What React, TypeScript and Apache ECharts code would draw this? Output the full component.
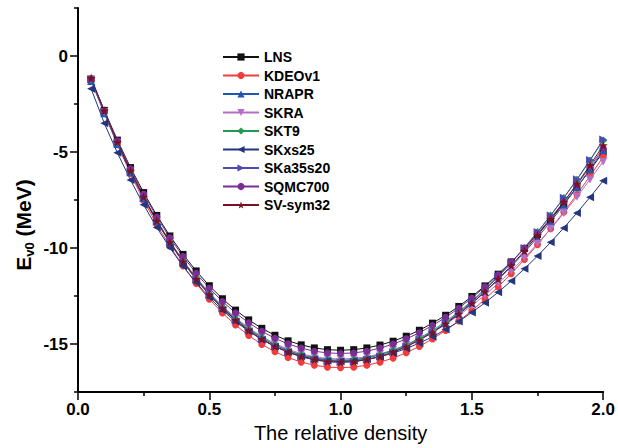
import React, { useEffect, useRef } from "react";
import * as echarts from "echarts";

const DENSITY = [
  0.05, 0.1, 0.15, 0.2, 0.25, 0.3, 0.35, 0.4, 0.45, 0.5,
  0.55, 0.6, 0.65, 0.7, 0.75, 0.8, 0.85, 0.9, 0.95, 1.0,
  1.05, 1.1, 1.15, 1.2, 1.25, 1.3, 1.35, 1.4, 1.45, 1.5,
  1.55, 1.6, 1.65, 1.7, 1.75, 1.8, 1.85, 1.9, 1.95, 2.0,
];

const LNS = [
  -1.2, -2.83, -4.38, -5.81, -7.11, -8.3, -9.37, -10.33, -11.19, -11.96,
  -12.64, -13.23, -13.74, -14.18, -14.54, -14.83, -15.04, -15.2, -15.29, -15.32,
  -15.29, -15.2, -15.05, -14.85, -14.59, -14.28, -13.91, -13.5, -13.04, -12.52,
  -11.97, -11.36, -10.72, -10.02, -9.29, -8.51, -7.69, -6.83, -5.94, -5.0,
];
const KDEOV1 = [
  -1.24, -2.97, -4.62, -6.13, -7.52, -8.77, -9.91, -10.93, -11.85, -12.66,
  -13.38, -14.01, -14.55, -15.02, -15.4, -15.7, -15.94, -16.1, -16.2, -16.23,
  -16.2, -16.1, -15.94, -15.73, -15.45, -15.12, -14.73, -14.29, -13.8, -13.26,
  -12.66, -12.02, -11.33, -10.6, -9.82, -8.99, -8.12, -7.21, -6.25, -5.25,
];
const NRAPR = [
  -1.3, -2.98, -4.58, -6.05, -7.39, -8.61, -9.72, -10.71, -11.6, -12.39,
  -13.09, -13.7, -14.22, -14.67, -15.04, -15.34, -15.57, -15.73, -15.82, -15.85,
  -15.82, -15.72, -15.56, -15.35, -15.07, -14.74, -14.36, -13.92, -13.43, -12.88,
  -12.29, -11.65, -10.96, -10.23, -9.45, -8.62, -7.75, -6.84, -5.89, -4.9,
];
const SKRA = [
  -1.25, -2.92, -4.52, -5.99, -7.33, -8.55, -9.65, -10.64, -11.53, -12.32,
  -13.02, -13.63, -14.16, -14.6, -14.97, -15.27, -15.5, -15.66, -15.75, -15.78,
  -15.75, -15.66, -15.51, -15.31, -15.05, -14.74, -14.38, -13.97, -13.51, -13.0,
  -12.44, -11.84, -11.19, -10.51, -9.77, -9.0, -8.18, -7.33, -6.43, -5.5,
];
const SKT9 = [
  -1.2, -2.89, -4.5, -5.98, -7.33, -8.56, -9.67, -10.67, -11.57, -12.36,
  -13.07, -13.68, -14.21, -14.66, -15.04, -15.34, -15.56, -15.72, -15.82, -15.85,
  -15.82, -15.72, -15.55, -15.33, -15.04, -14.69, -14.29, -13.83, -13.32, -12.75,
  -12.13, -11.46, -10.74, -9.98, -9.16, -8.3, -7.39, -6.44, -5.44, -4.4,
];
const SKXS25 = [
  -1.7, -3.5, -5.04, -6.46, -7.75, -8.93, -9.99, -10.95, -11.8, -12.57,
  -13.24, -13.83, -14.33, -14.77, -15.12, -15.41, -15.63, -15.78, -15.87, -15.9,
  -15.87, -15.79, -15.66, -15.47, -15.23, -14.95, -14.62, -14.24, -13.82, -13.35,
  -12.85, -12.3, -11.71, -11.08, -10.41, -9.7, -8.95, -8.17, -7.35, -6.5,
];
const SKA35S20 = [
  -1.21, -2.9, -4.53, -6.02, -7.38, -8.61, -9.73, -10.74, -11.64, -12.44,
  -13.15, -13.77, -14.3, -14.76, -15.13, -15.43, -15.66, -15.82, -15.92, -15.95,
  -15.92, -15.81, -15.65, -15.42, -15.13, -14.78, -14.37, -13.9, -13.38, -12.81,
  -12.18, -11.5, -10.78, -10.0, -9.17, -8.3, -7.38, -6.42, -5.41, -4.35,
];
const SQMC700 = [
  -1.2, -2.85, -4.42, -5.87, -7.19, -8.38, -9.47, -10.44, -11.31, -12.09,
  -12.78, -13.38, -13.89, -14.33, -14.7, -14.99, -15.21, -15.37, -15.46, -15.49,
  -15.46, -15.37, -15.21, -15.0, -14.73, -14.41, -14.03, -13.61, -13.13, -12.6,
  -12.02, -11.39, -10.72, -10.01, -9.25, -8.44, -7.59, -6.7, -5.77, -4.8,
];
const SVSYM32 = [
  -1.15, -2.85, -4.48, -5.98, -7.34, -8.58, -9.7, -10.71, -11.62, -12.42,
  -13.13, -13.75, -14.29, -14.74, -15.12, -15.42, -15.65, -15.81, -15.91, -15.94,
  -15.91, -15.81, -15.65, -15.42, -15.14, -14.8, -14.4, -13.95, -13.44, -12.88,
  -12.27, -11.61, -10.91, -10.15, -9.34, -8.5, -7.6, -6.66, -5.68, -4.65,
];

const Y_LABELS = [-15, -10, -5, 0];
const Y_MINOR = [-17.5, -12.5, -7.5, -2.5, 2.5];

const STAR =
  "path://M0,-10 L2.35,-3.24 9.51,-3.09 3.80,1.24 5.88,8.09 0,4 -5.88,8.09 -3.80,1.24 -9.51,-3.09 -2.35,-3.24Z";

const SERIES_DEFS = [
  { name: "LNS", data: LNS, color: "#111111", symbol: "rect", rot: 0, size: 7 },
  { name: "KDEOv1", data: KDEOV1, color: "#f03c3c", symbol: "circle", rot: 0, size: 7 },
  { name: "NRAPR", data: NRAPR, color: "#1f56b0", symbol: "triangle", rot: 0, size: 8 },
  { name: "SKRA", data: SKRA, color: "#b46ec8", symbol: "triangle", rot: 180, size: 8 },
  { name: "SKT9", data: SKT9, color: "#229955", symbol: "diamond", rot: 0, size: 8 },
  { name: "SKxs25", data: SKXS25, color: "#24367f", symbol: "triangle", rot: 90, size: 8 },
  { name: "SKa35s20", data: SKA35S20, color: "#4b4bb0", symbol: "triangle", rot: -90, size: 8 },
  { name: "SQMC700", data: SQMC700, color: "#7b2d96", symbol: "circle", rot: 0, size: 7 },
  { name: "SV-sym32", data: SVSYM32, color: "#7a1020", symbol: STAR, rot: 0, size: 9 },
];

const FONT = "'Liberation Sans', Arial, sans-serif";

export default function App() {
  const ref = useRef<HTMLDivElement>(null);
  useEffect(() => {
    if (!ref.current) return;
    const chart = echarts.init(ref.current, null, { renderer: "svg" });
    chart.setOption({
      animation: false,
      backgroundColor: "#ffffff",
      grid: { left: 78, right: 12, top: 8, bottom: 53 },
      legend: {
        orient: "vertical",
        left: 222,
        top: 50,
        padding: 0,
        itemWidth: 36,
        itemHeight: 9,
        itemGap: 4.5,
        textStyle: { fontFamily: FONT, fontSize: 14, fontWeight: "bold", color: "#000" },
        data: SERIES_DEFS.map((s) => s.name),
      },
      xAxis: {
        type: "value",
        min: 0,
        max: 2,
        interval: 0.5,
        name: "The relative density",
        nameLocation: "middle",
        nameGap: 29,
        nameTextStyle: { fontFamily: FONT, fontSize: 20, color: "#000" },
        axisLine: { show: true, onZero: false, lineStyle: { color: "#000", width: 2 } },
        axisTick: { show: true, length: 8, lineStyle: { color: "#000", width: 1.5 } },
        minorTick: { show: true, splitNumber: 2, length: 4, lineStyle: { color: "#000", width: 1.5 } },
        splitLine: { show: false },
        axisLabel: {
          margin: 9,
          fontFamily: FONT,
          fontSize: 17,
          fontWeight: "bold",
          color: "#000",
          formatter: (v: number) => v.toFixed(1),
        },
      },
      yAxis: [
        {
          type: "value",
          min: -17.5,
          max: 2.5,
          position: "left",
          axisLine: { show: true, onZero: false, lineStyle: { color: "#000", width: 2 } },
          axisTick: {
            show: true,
            length: 8,
            customValues: Y_LABELS,
            lineStyle: { color: "#000", width: 1.5 },
          },
          splitLine: { show: false },
          axisLabel: {
            customValues: Y_LABELS,
            margin: 10,
            fontFamily: FONT,
            fontSize: 17,
            fontWeight: "bold",
            color: "#000",
          },
        },
        {
          type: "value",
          min: -17.5,
          max: 2.5,
          position: "left",
          axisLine: { show: false, onZero: false },
          axisTick: {
            show: true,
            length: 4,
            customValues: Y_MINOR,
            lineStyle: { color: "#000", width: 1.5 },
          },
          axisLabel: { show: false },
          splitLine: { show: false },
        },
      ],
      graphic: [
        {
          type: "text",
          x: 23,
          y: 225,
          rotation: Math.PI / 2,
          style: {
            text: "{a|E}{b|v0}{a| (MeV)}",
            align: "center",
            verticalAlign: "middle",
            fill: "#000",
            rich: {
              a: { fontFamily: FONT, fontSize: 21, fontWeight: "bold", fill: "#000" },
              b: { fontFamily: FONT, fontSize: 13, fontWeight: "bold", fill: "#000", padding: [12, 0, 0, 0] },
            },
          },
        },
      ],
      series: SERIES_DEFS.map((s) => ({
        name: s.name,
        type: "line",
        yAxisIndex: 0,
        data: DENSITY.map((x, i) => [x, s.data[i]]),
        symbol: s.symbol,
        symbolRotate: s.rot,
        symbolSize: s.size,
        showAllSymbol: true,
        lineStyle: { color: s.color, width: 1 },
        itemStyle: { color: s.color },
      })),
    });
    return () => chart.dispose();
  }, []);
  return (
    <div
      ref={ref}
      style={{ position: "absolute", left: 0, top: 0, width: 618, height: 448 }}
    />
  );
}
